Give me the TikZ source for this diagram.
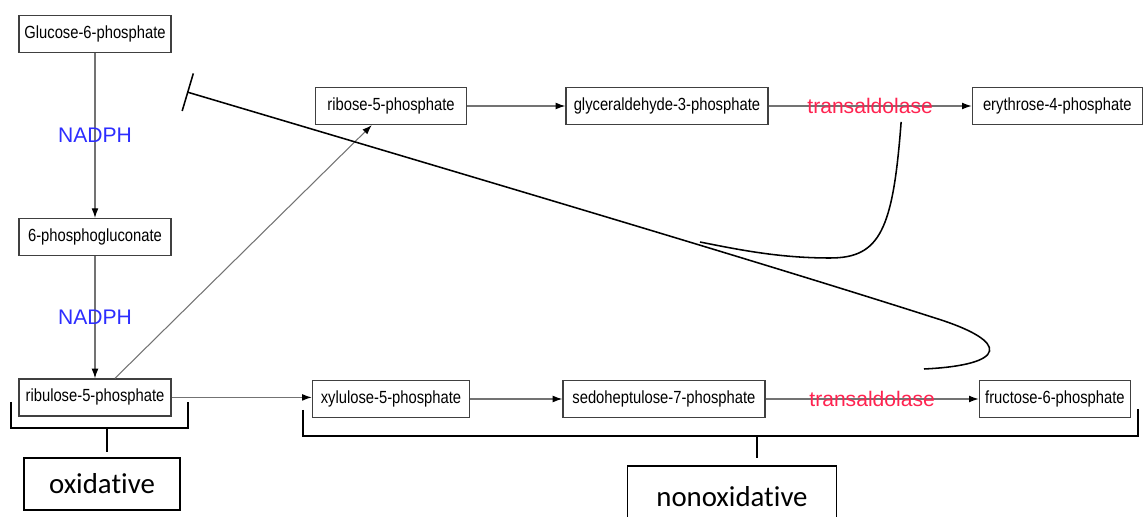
\documentclass[tikz,border=0pt]{standalone}
\usepackage{fontspec}
\setmainfont{Liberation Sans}
\newfontfamily\metfont[FakeStretch=0.84]{Liberation Sans}
\newfontfamily\phasefont[Ligatures=NoCommon]{Carlito}
\usetikzlibrary{positioning,arrows.meta,calc}
\definecolor{nadphblue}{RGB}{45,45,255}
\definecolor{enzred}{RGB}{255,35,80}

\begin{document}
\begin{tikzpicture}[x=0.025cm, y=-0.025cm,
  met node/.style={draw=black!75, line width=0.9pt, fill=white, minimum height=0.925cm, inner xsep=2pt, font=\metfont\fontsize{12.5}{14}\selectfont},
  step arrow/.style={draw=black!55, line width=0.75pt, -{Latex[length=2.4mm,width=1.7mm,color=black]}},
  cofactor/.style={text=nadphblue, font=\fontsize{15}{18}\selectfont},
  enzyme/.style={text=enzred, font=\fontsize{15}{18}\selectfont},
  hand/.style={black, line width=1.1pt},
  phase box/.style={draw, line width=1.1pt, font=\phasefont\fontsize{20.5}{24}\selectfont}]

  \useasboundingbox (0,0) rectangle (1144,517);

  \node[met node, minimum width=3.8cm] (g6p) at (95,34) {Glucose-6-phosphate};
  \node[met node, minimum width=3.8cm] (pg6) [below=4.12cm of g6p] {6-phosphogluconate};
  \node[met node, minimum width=3.8cm] (ru5p) [below=3.05cm of pg6] {ribulose-5-phosphate};

  \node[met node, minimum width=3.78cm] (rib) at (391,106) {ribose-5-phosphate};
  \node[met node, minimum width=5.05cm] (gap) [right=2.45cm of rib] {glyceraldehyde-3-phosphate};
  \node[met node, minimum width=4.25cm] (e4p) [right=5.075cm of gap] {erythrose-4-phosphate};

  \node[met node, minimum width=3.93cm] (xu5p) at (391,399) {xylulose-5-phosphate};
  \node[met node, minimum width=5.05cm] (s7p) [right=2.3cm of xu5p] {sedoheptulose-7-phosphate};
  \node[met node, minimum width=3.78cm] (f6p) [right=5.325cm of s7p] {fructose-6-phosphate};

  \node[phase box, minimum width=3.9cm, minimum height=1.3cm] (oxbox) at (102,484) {oxidative};
  \node[phase box, minimum width=5.225cm, minimum height=1.55cm] (nonoxbox) at (732,497) {nonoxidative};

  \draw[step arrow] (g6p) -- node[cofactor] (nadph1) {NADPH} (pg6);
  \draw[step arrow] (pg6) -- node[cofactor] (nadph2) {NADPH} (ru5p);
  \draw[step arrow] ([xshift=0.5cm]ru5p.north) -- ([xshift=-0.48cm]rib.south);
  \draw[step arrow] (ru5p.east) -- (ru5p.east -| xu5p.west);
  \draw[step arrow] (rib) -- (gap);
  \draw[step arrow] (gap) -- node[enzyme] (ta1) {transaldolase} (e4p);
  \draw[step arrow] (xu5p) -- (s7p);
  \draw[step arrow] (s7p) -- node[enzyme] (ta2) {transaldolase} (f6p);

  \draw[hand] (11,402) |- (188,428) -- (188,402);
  \coordinate (oxstem) at (107,428);
  \draw[hand, shorten >=0.125cm] (oxstem) -- (oxstem |- oxbox.north);

  \draw[hand] (303,410) |- (1138,436) -- (1138,409);
  \coordinate (nonoxstem) at (757,436);
  \draw[hand, shorten >=0.175cm] (nonoxstem) -- (nonoxstem |- nonoxbox.north);

  \coordinate (inhstart) at (187,92);
  \coordinate (join) at (700,242);
  \draw[hand, {Bar[width=0.98cm]}-] (inhstart) .. controls (500,185) and (760,262) .. (935,318)
    .. controls (1012,342) and (1007,365) .. (924,369);
  \draw[hand] ($(ta1.south)+(31,3)$) .. controls (893,230) and (880,258) .. (830,258)
    .. controls (780,258) and (740,250) .. (join);
\end{tikzpicture}
\end{document}
